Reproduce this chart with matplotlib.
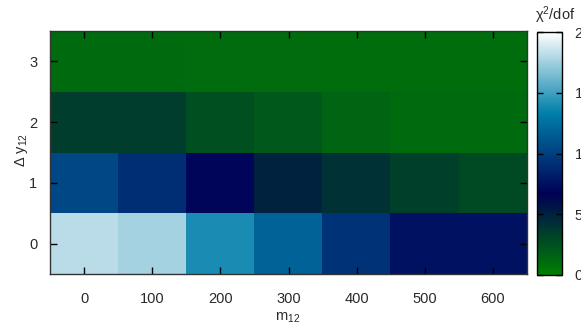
import numpy as np
import matplotlib
matplotlib.use("Agg")
import matplotlib.pyplot as plt

plt.rcParams['font.family'] = ['Liberation Sans', 'DejaVu Sans']
plt.rcParams['mathtext.fontset'] = 'custom'
plt.rcParams['mathtext.rm'] = 'Liberation Sans'
plt.rcParams['mathtext.it'] = 'Liberation Sans:italic'

# Data
m12 = [0, 100, 200, 300, 400, 500, 600]
dy12 = [0, 1, 2, 3]
chi2_row0 = [18.2, 17.6, 14.0, 11.85, 9.35, 7.6, 7.6]
chi2_row1 = [10.4, 9.1, 7.0, 4.9, 4.1, 3.3, 2.75]
chi2_row2 = [3.5, 3.5, 2.5, 2.1, 1.45, 1.1, 1.1]
chi2_row3 = [1.1, 1.1, 1.05, 1.05, 0.95, 1.0, 1.0]
cbar_ticks = [0, 5, 10, 15, 20]

Z = np.array([chi2_row0, chi2_row1, chi2_row2, chi2_row3])

W, H = 581, 326
fig = plt.figure(figsize=(W / 100, H / 100), dpi=100)
ax = fig.add_axes([50 / W, 1 - 274 / H, 477 / W, 243 / H])
cax = fig.add_axes([537 / W, 1 - 275 / H, 25 / W, 243 / H])

dx = m12[1] - m12[0]
extent = [m12[0] - dx / 2, m12[-1] + dx / 2, dy12[0] - 0.5, dy12[-1] + 0.5]
im = ax.imshow(Z, origin='lower', extent=extent, aspect='auto',
               cmap='ocean', vmin=0, vmax=20, interpolation='nearest')

tc = '#2a2a2a'
ax.set_xticks(m12)
ax.set_yticks(dy12)
ax.tick_params(axis='x', direction='in', top=True, bottom=True, length=5,
               width=1, colors='black', labelcolor=tc, labelsize=10.5, pad=13)
ax.tick_params(axis='y', direction='in', left=True, right=True, length=5,
               width=1, colors='black', labelcolor=tc, labelsize=10.5, pad=9)
for s in ax.spines.values():
    s.set_color('#333333')
    s.set_linewidth(1)

cb = fig.colorbar(im, cax=cax, ticks=cbar_ticks)
cb.outline.set_edgecolor('black')
cb.outline.set_linewidth(1)
cax.tick_params(direction='in', left=True, right=True, length=4, width=1,
                colors='black', labelcolor=tc, labelsize=10.5, pad=9)

fig.text(288 / W, 1 - 318 / H, r'm$_{\rm 12}$', ha='center', va='center',
         fontsize=10.5, color=tc)
fig.text(22 / W, 1 - 150 / H, r'$\Delta$ y$_{\rm 12}$', ha='center',
         va='center', rotation=90, fontsize=10.5, color=tc)
fig.text(555 / W, 1 - 15 / H, 'χ$^{\\rm 2}$/dof', ha='center', va='center',
         fontsize=10.5, color=tc)

fig.savefig('out.png', dpi=100)
